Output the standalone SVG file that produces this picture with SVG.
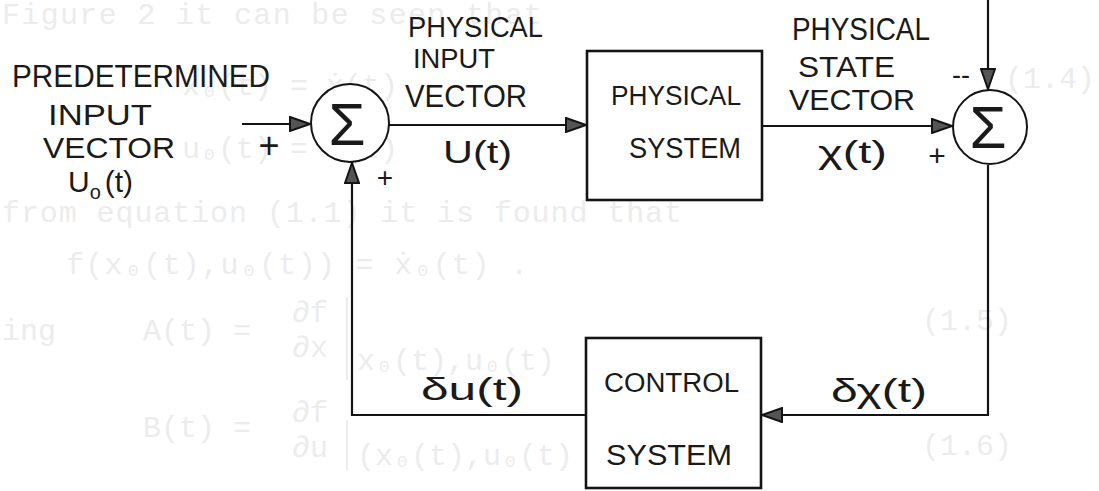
<svg xmlns="http://www.w3.org/2000/svg" width="1099" height="491" viewBox="0 0 1099 491">
<style>
.bg{font-family:"Liberation Mono","DejaVu Sans Mono",monospace;font-size:30px;fill:#ececec}
.bgl{stroke:#ececec;stroke-width:2;fill:none}
.hw{font-family:"Liberation Sans","DejaVu Sans",sans-serif;fill:#1a1a1a}
.ln{stroke:#141414;stroke-width:2.2;fill:none}
.box{stroke:#141414;stroke-width:2.6;fill:none}
.circ{stroke:#141414;stroke-width:2;fill:#fff}
.sig{font-family:"Liberation Sans","DejaVu Sans",sans-serif;font-size:60px;fill:#1a1a1a;text-anchor:middle}
</style>
<defs>
<marker id="arr" viewBox="0 0 22 16" refX="22" refY="8" markerWidth="22" markerHeight="16" markerUnits="userSpaceOnUse" orient="auto">
<path d="M1,1 L21,8 L1,15 Z" fill="#555" stroke="#141414" stroke-width="2"/>
</marker>
</defs>
<rect width="1099" height="491" fill="#fff"/>

<g id="bleed-through">
<text class="bg" x="2" y="24" textLength="540">Figure 2 it can be seen that</text>
<text class="bg" x="182" y="95">x₀(t) = ẋ(t)</text>
<text class="bg" x="1005" y="88">(1.4)</text>
<text class="bg" x="182" y="158">u₀(t) = u(t)</text>
<text class="bg" x="2" y="222" textLength="680">from equation (1.1) it is found that</text>
<text class="bg" x="66" y="274" textLength="462">f(x₀(t),u₀(t)) = ẋ₀(t) .</text>
<text class="bg" x="2" y="340">ing</text>
<text class="bg" x="143" y="340">A(t) =</text>
<text class="bg" x="292" y="322">∂f</text>
<text class="bg" x="292" y="357">∂x</text>
<line class="bgl" x1="347" y1="297" x2="347" y2="380"/>
<text class="bg" x="357" y="370">x₀(t),u₀(t)</text>
<text class="bg" x="922" y="330">(1.5)</text>
<text class="bg" x="143" y="437">B(t) =</text>
<text class="bg" x="292" y="422">∂f</text>
<text class="bg" x="292" y="457">∂u</text>
<line class="bgl" x1="347" y1="420" x2="347" y2="470"/>
<text class="bg" x="357" y="465">(x₀(t),u₀(t)</text>
<text class="bg" x="922" y="455">(1.6)</text>
</g>

<g id="connectors">
<line class="ln" x1="242" y1="124" x2="311" y2="124" marker-end="url(#arr)"/>
<line class="ln" x1="389" y1="125" x2="587" y2="125" marker-end="url(#arr)"/>
<line class="ln" x1="762" y1="126" x2="953" y2="126" marker-end="url(#arr)"/>
<line class="ln" x1="988" y1="0" x2="988" y2="90" marker-end="url(#arr)"/>
<polyline class="ln" points="988,165 988,415 761,415" marker-end="url(#arr)"/>
<polyline class="ln" points="586,415 352,415 352,162" marker-end="url(#arr)"/>
</g>

<g id="labels">
<text class="hw" x="12" y="87" font-size="32" textLength="258" lengthAdjust="spacingAndGlyphs">PREDETERMINED</text>
<text class="hw" x="48" y="125" font-size="29" textLength="104" lengthAdjust="spacingAndGlyphs">INPUT</text>
<text class="hw" x="43" y="158" font-size="29" textLength="132" lengthAdjust="spacingAndGlyphs">VECTOR</text>
<text class="hw" x="68" y="192" font-size="30">U<tspan font-size="20" dy="7">o</tspan><tspan dy="-7" dx="4">(t)</tspan></text>
<text class="hw" x="269" y="158" font-size="36" text-anchor="middle">+</text>

<text class="hw" x="408" y="37" font-size="30" textLength="135" lengthAdjust="spacingAndGlyphs">PHYSICAL</text>
<text class="hw" x="413" y="68" font-size="27" textLength="82" lengthAdjust="spacingAndGlyphs">INPUT</text>
<text class="hw" x="405" y="107" font-size="32" textLength="122" lengthAdjust="spacingAndGlyphs">VECTOR</text>
<text class="hw" x="443" y="163" font-size="31" textLength="69" lengthAdjust="spacingAndGlyphs">U(t)</text>
<text class="hw" x="385" y="187" font-size="28" text-anchor="middle">+</text>

<text class="hw" x="792" y="40" font-size="31" textLength="138" lengthAdjust="spacingAndGlyphs">PHYSICAL</text>
<text class="hw" x="798" y="77" font-size="29" textLength="97" lengthAdjust="spacingAndGlyphs">STATE</text>
<text class="hw" x="789" y="110" font-size="30" textLength="126" lengthAdjust="spacingAndGlyphs">VECTOR</text>
<text class="hw" x="818" y="163" font-size="32" textLength="69" lengthAdjust="spacingAndGlyphs">χ(t)</text>
<text class="hw" x="937" y="166" font-size="30" text-anchor="middle">+</text>
<text class="hw" x="952" y="84" font-size="27" textLength="18" lengthAdjust="spacingAndGlyphs">--</text>

<text class="hw" x="831" y="402" font-size="33" textLength="96" lengthAdjust="spacingAndGlyphs">δχ(t)</text>
<text class="hw" x="421" y="400" font-size="32" textLength="102" lengthAdjust="spacingAndGlyphs">δu(t)</text>
</g>

<g id="sum1">
<circle class="circ" cx="350" cy="123" r="39"/>
<text class="sig" x="347" y="145">Σ</text>
</g>

<g id="physical-system">
<rect class="box" x="587" y="51" width="175" height="149"/>
<text class="hw" x="611" y="105" font-size="28" textLength="130" lengthAdjust="spacingAndGlyphs">PHYSICAL</text>
<text class="hw" x="629" y="158" font-size="29" textLength="112" lengthAdjust="spacingAndGlyphs">SYSTEM</text>
</g>

<g id="sum2">
<circle class="circ" cx="990" cy="127" r="37"/>
<text class="sig" x="988" y="148">Σ</text>
</g>

<g id="control-system">
<rect class="box" x="586" y="338" width="175" height="150"/>
<text class="hw" x="604" y="392" font-size="27" textLength="135" lengthAdjust="spacingAndGlyphs">CONTROL</text>
<text class="hw" x="606" y="465" font-size="29" textLength="126" lengthAdjust="spacingAndGlyphs">SYSTEM</text>
</g>
</svg>
